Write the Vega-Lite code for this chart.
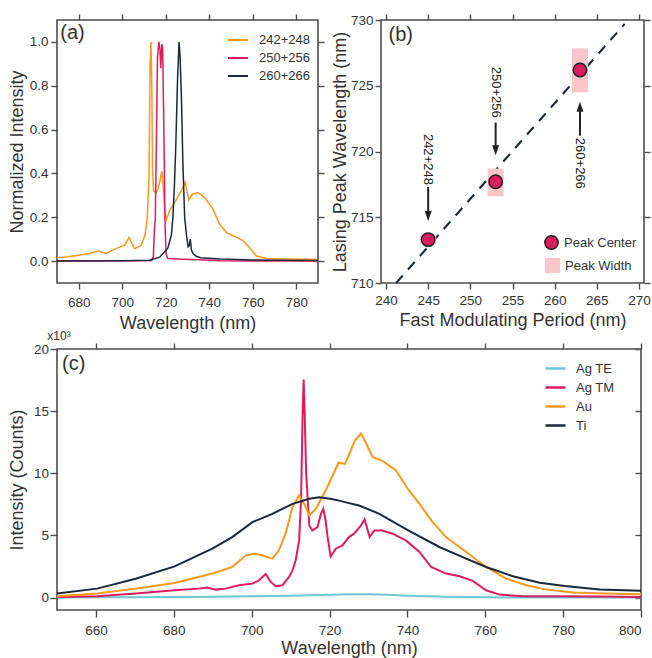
{
  "$schema": "https://vega.github.io/schema/vega-lite/v6.json",
  "padding": {"left": 7, "top": 12, "right": 0, "bottom": 0},
  "background": "white",
  "config": {
    "font": "Liberation Sans",
    "view": {"stroke": "#4d4d4d", "strokeWidth": 1.6},
    "axis": {"domain": false, "grid": false, "tickColor": "#4d4d4d", "tickWidth": 1.4, "tickSize": 6, "labelFont": "Liberation Sans", "labelFontSize": 13.5, "labelColor": "#333333", "labelPadding": 3, "titleFont": "Liberation Sans", "titleFontSize": 18, "titleFontWeight": "normal", "titleColor": "#333333"},
    "legend": {"labelFont": "Liberation Sans", "labelFontSize": 13, "labelColor": "#333333", "padding": 0},
    "text": {"font": "Liberation Sans", "color": "#333333"}
  },
  "datasets": {
    "a": [
      {"series":"242+248","wl":670,"val":0.015},{"series":"242+248","wl":675,"val":0.02},{"series":"242+248","wl":680,"val":0.027},{"series":"242+248","wl":685,"val":0.035},{"series":"242+248","wl":688.9,"val":0.046},{"series":"242+248","wl":692.7,"val":0.035},{"series":"242+248","wl":697.3,"val":0.058},{"series":"242+248","wl":701.1,"val":0.073},{"series":"242+248","wl":703.1,"val":0.107},{"series":"242+248","wl":705.7,"val":0.056},{"series":"242+248","wl":708.8,"val":0.073},{"series":"242+248","wl":710.5,"val":0.12},{"series":"242+248","wl":711.5,"val":0.2},{"series":"242+248","wl":712.3,"val":0.38},{"series":"242+248","wl":712.8,"val":0.9},{"series":"242+248","wl":713.2,"val":1.0},{"series":"242+248","wl":713.6,"val":0.8},{"series":"242+248","wl":713.9,"val":0.42},{"series":"242+248","wl":714.4,"val":0.32},{"series":"242+248","wl":715.5,"val":0.31},{"series":"242+248","wl":716.5,"val":0.33},{"series":"242+248","wl":717.4,"val":0.37},{"series":"242+248","wl":718.2,"val":0.41},{"series":"242+248","wl":718.9,"val":0.33},{"series":"242+248","wl":719.6,"val":0.22},{"series":"242+248","wl":720.3,"val":0.19},{"series":"242+248","wl":721.8,"val":0.23},{"series":"242+248","wl":724.9,"val":0.28},{"series":"242+248","wl":727.9,"val":0.336},{"series":"242+248","wl":729.0,"val":0.36},{"series":"242+248","wl":730.6,"val":0.28},{"series":"242+248","wl":732.2,"val":0.305},{"series":"242+248","wl":734.8,"val":0.313},{"series":"242+248","wl":737.9,"val":0.29},{"series":"242+248","wl":741.7,"val":0.237},{"series":"242+248","wl":744.8,"val":0.168},{"series":"242+248","wl":747.9,"val":0.13},{"series":"242+248","wl":751.7,"val":0.113},{"series":"242+248","wl":755.5,"val":0.093},{"series":"242+248","wl":758.6,"val":0.061},{"series":"242+248","wl":761.7,"val":0.023},{"series":"242+248","wl":766.3,"val":0.012},{"series":"242+248","wl":775,"val":0.009},{"series":"242+248","wl":790,"val":0.007},
      {"series":"250+256","wl":670,"val":0.0},{"series":"250+256","wl":700,"val":0.002},{"series":"250+256","wl":713.5,"val":0.003},{"series":"250+256","wl":714.3,"val":0.02},{"series":"250+256","wl":714.8,"val":0.15},{"series":"250+256","wl":715.2,"val":0.19},{"series":"250+256","wl":715.7,"val":0.55},{"series":"250+256","wl":716.2,"val":0.93},{"series":"250+256","wl":716.8,"val":1.0},{"series":"250+256","wl":717.3,"val":0.97},{"series":"250+256","wl":717.7,"val":0.88},{"series":"250+256","wl":718.2,"val":0.99},{"series":"250+256","wl":718.6,"val":0.97},{"series":"250+256","wl":719.2,"val":0.55},{"series":"250+256","wl":719.7,"val":0.15},{"series":"250+256","wl":720.2,"val":0.03},{"series":"250+256","wl":721,"val":0.012},{"series":"250+256","wl":725,"val":0.01},{"series":"250+256","wl":735,"val":0.006},{"series":"250+256","wl":745,"val":0.002},{"series":"250+256","wl":760,"val":0.0},{"series":"250+256","wl":790,"val":0.0},
      {"series":"260+266","wl":670,"val":0.0},{"series":"260+266","wl":700,"val":0.002},{"series":"260+266","wl":712.6,"val":0.004},{"series":"260+266","wl":717.2,"val":0.018},{"series":"260+266","wl":719.5,"val":0.043},{"series":"260+266","wl":721,"val":0.06},{"series":"260+266","wl":722.6,"val":0.12},{"series":"260+266","wl":723.3,"val":0.2},{"series":"260+266","wl":724,"val":0.35},{"series":"260+266","wl":724.6,"val":0.52},{"series":"260+266","wl":725.4,"val":0.82},{"series":"260+266","wl":726.1,"val":1.0},{"series":"260+266","wl":726.6,"val":0.93},{"series":"260+266","wl":727.2,"val":0.75},{"series":"260+266","wl":727.9,"val":0.44},{"series":"260+266","wl":728.7,"val":0.2},{"series":"260+266","wl":729.5,"val":0.12},{"series":"260+266","wl":730.3,"val":0.065},{"series":"260+266","wl":730.8,"val":0.07},{"series":"260+266","wl":731.3,"val":0.1},{"series":"260+266","wl":731.8,"val":0.05},{"series":"260+266","wl":732.5,"val":0.035},{"series":"260+266","wl":734,"val":0.022},{"series":"260+266","wl":736,"val":0.015},{"series":"260+266","wl":745,"val":0.01},{"series":"260+266","wl":760,"val":0.005},{"series":"260+266","wl":790,"val":0.003}
    ],
    "c": [
      {"series":"Ag TE","wl":650,"val":0.0},{"series":"Ag TE","wl":660,"val":0.02},{"series":"Ag TE","wl":670,"val":0.03},{"series":"Ag TE","wl":680,"val":0.05},{"series":"Ag TE","wl":690,"val":0.07},{"series":"Ag TE","wl":700,"val":0.1},{"series":"Ag TE","wl":710,"val":0.15},{"series":"Ag TE","wl":720,"val":0.22},{"series":"Ag TE","wl":725,"val":0.27},{"series":"Ag TE","wl":730,"val":0.27},{"series":"Ag TE","wl":735,"val":0.22},{"series":"Ag TE","wl":740,"val":0.15},{"series":"Ag TE","wl":750,"val":0.07},{"series":"Ag TE","wl":760,"val":0.03},{"series":"Ag TE","wl":770,"val":0.0},{"series":"Ag TE","wl":780,"val":0.0},{"series":"Ag TE","wl":800,"val":0.0},
      {"series":"Ag TM","wl":650,"val":0.05},{"series":"Ag TM","wl":660.3,"val":0.11},{"series":"Ag TM","wl":670.2,"val":0.32},{"series":"Ag TM","wl":680.2,"val":0.59},{"series":"Ag TM","wl":686.4,"val":0.72},{"series":"Ag TM","wl":688.6,"val":0.8},{"series":"Ag TM","wl":690.7,"val":0.64},{"series":"Ag TM","wl":693.3,"val":0.72},{"series":"Ag TM","wl":696.7,"val":0.99},{"series":"Ag TM","wl":700.2,"val":1.12},{"series":"Ag TM","wl":701.9,"val":1.39},{"series":"Ag TM","wl":703.6,"val":1.9},{"series":"Ag TM","wl":704.9,"val":1.26},{"series":"Ag TM","wl":706.2,"val":0.91},{"series":"Ag TM","wl":707.9,"val":0.99},{"series":"Ag TM","wl":709.6,"val":1.66},{"series":"Ag TM","wl":710.5,"val":2.19},{"series":"Ag TM","wl":711.3,"val":3.0},{"series":"Ag TM","wl":712.2,"val":4.6},{"series":"Ag TM","wl":712.7,"val":8.0},{"series":"Ag TM","wl":713.1,"val":15.0},{"series":"Ag TM","wl":713.35,"val":17.55},{"series":"Ag TM","wl":713.6,"val":15.0},{"series":"Ag TM","wl":714.0,"val":10.0},{"series":"Ag TM","wl":714.8,"val":5.8},{"series":"Ag TM","wl":715.6,"val":5.4},{"series":"Ag TM","wl":716.9,"val":5.67},{"series":"Ag TM","wl":717.8,"val":6.74},{"series":"Ag TM","wl":718.4,"val":7.14},{"series":"Ag TM","wl":719.0,"val":6.21},{"series":"Ag TM","wl":719.5,"val":4.87},{"series":"Ag TM","wl":720.3,"val":3.3},{"series":"Ag TM","wl":721.6,"val":3.93},{"series":"Ag TM","wl":723.3,"val":4.2},{"series":"Ag TM","wl":725.0,"val":4.87},{"series":"Ag TM","wl":726.3,"val":5.14},{"series":"Ag TM","wl":728.1,"val":5.81},{"series":"Ag TM","wl":729.0,"val":6.3},{"series":"Ag TM","wl":730.3,"val":4.87},{"series":"Ag TM","wl":731.5,"val":5.4},{"series":"Ag TM","wl":733.6,"val":5.4},{"series":"Ag TM","wl":736.2,"val":5.14},{"series":"Ag TM","wl":739.6,"val":4.6},{"series":"Ag TM","wl":743.1,"val":3.67},{"series":"Ag TM","wl":746.1,"val":2.46},{"series":"Ag TM","wl":749.9,"val":1.93},{"series":"Ag TM","wl":753.4,"val":1.71},{"series":"Ag TM","wl":756.8,"val":1.34},{"series":"Ag TM","wl":760.2,"val":0.59},{"series":"Ag TM","wl":763.7,"val":0.24},{"series":"Ag TM","wl":769.7,"val":0.11},{"series":"Ag TM","wl":778.2,"val":0.11},{"series":"Ag TM","wl":790,"val":0.08},{"series":"Ag TM","wl":800,"val":0.05},
      {"series":"Au","wl":650,"val":0.11},{"series":"Au","wl":660.3,"val":0.32},{"series":"Au","wl":670.2,"val":0.72},{"series":"Au","wl":680.2,"val":1.18},{"series":"Au","wl":689.9,"val":1.93},{"series":"Au","wl":695,"val":2.46},{"series":"Au","wl":698.5,"val":3.4},{"series":"Au","wl":700.6,"val":3.53},{"series":"Au","wl":702.7,"val":3.4},{"series":"Au","wl":705.3,"val":3.13},{"series":"Au","wl":707,"val":3.8},{"series":"Au","wl":708.7,"val":5.14},{"series":"Au","wl":710.5,"val":7.28},{"series":"Au","wl":712.2,"val":8.21},{"series":"Au","wl":713.5,"val":7.54},{"series":"Au","wl":714.8,"val":6.61},{"series":"Au","wl":716.5,"val":7.14},{"series":"Au","wl":719,"val":8.61},{"series":"Au","wl":720.8,"val":9.82},{"series":"Au","wl":722.3,"val":10.85},{"series":"Au","wl":724.0,"val":10.75},{"series":"Au","wl":726.5,"val":12.63},{"series":"Au","wl":728.1,"val":13.2},{"series":"Au","wl":729.4,"val":12.4},{"series":"Au","wl":731.1,"val":11.29},{"series":"Au","wl":733.6,"val":11.0},{"series":"Au","wl":737.1,"val":10.22},{"series":"Au","wl":740.2,"val":8.7},{"series":"Au","wl":743.1,"val":7.54},{"series":"Au","wl":746.5,"val":6.07},{"series":"Au","wl":749.9,"val":4.87},{"series":"Au","wl":755.1,"val":3.67},{"series":"Au","wl":760.2,"val":2.46},{"series":"Au","wl":765.4,"val":1.52},{"series":"Au","wl":770.5,"val":0.99},{"series":"Au","wl":775.7,"val":0.64},{"series":"Au","wl":782.5,"val":0.4},{"series":"Au","wl":791.1,"val":0.32},{"series":"Au","wl":800,"val":0.27},
      {"series":"Ti","wl":650,"val":0.32},{"series":"Ti","wl":660.3,"val":0.72},{"series":"Ti","wl":670.2,"val":1.52},{"series":"Ti","wl":680.2,"val":2.51},{"series":"Ti","wl":689.9,"val":3.93},{"series":"Ti","wl":695,"val":4.87},{"series":"Ti","wl":700.2,"val":6.07},{"series":"Ti","wl":705.3,"val":6.74},{"series":"Ti","wl":710.5,"val":7.54},{"series":"Ti","wl":714.8,"val":7.95},{"series":"Ti","wl":717.3,"val":8.08},{"series":"Ti","wl":720.2,"val":7.95},{"series":"Ti","wl":722.5,"val":7.8},{"series":"Ti","wl":725,"val":7.6},{"series":"Ti","wl":727.6,"val":7.41},{"series":"Ti","wl":732.8,"val":6.74},{"series":"Ti","wl":740.2,"val":5.4},{"series":"Ti","wl":748.2,"val":4.07},{"series":"Ti","wl":755.1,"val":3.13},{"series":"Ti","wl":760.2,"val":2.46},{"series":"Ti","wl":767.1,"val":1.71},{"series":"Ti","wl":774,"val":1.2},{"series":"Ti","wl":780.4,"val":0.94},{"series":"Ti","wl":789.4,"val":0.64},{"series":"Ti","wl":800,"val":0.54}
    ],
    "b_pts": [{"period":245,"peak":713.3},{"period":253,"peak":717.7},{"period":263,"peak":726.2}],
    "b_width": [{"period":245,"lo":712.95,"hi":713.65},{"period":253,"lo":716.6,"hi":718.7},{"period":263,"lo":724.5,"hi":727.85}],
    "b_fit": [{"period":241.2,"peak":710},{"period":268.3,"peak":729.7}],
    "b_arrows": [
      {"label":"242+248","period":245,"textPos":719.4,"tail":717.3,"head":715.1,"dir":"down"},
      {"label":"250+256","period":253,"textPos":724.5,"tail":722.2,"head":720.1,"dir":"down"},
      {"label":"260+266","period":263,"textPos":719.1,"tail":721.2,"head":723.4,"dir":"up"}
    ]
  },
  "spacing": -5,
  "resolve": {"scale": {"x": "independent", "y": "independent", "color": "independent", "fill": "independent", "shape": "independent"}},
  "vconcat": [
    {
      "bounds": "flush",
      "spacing": 63,
      "resolve": {"scale": {"x": "independent", "y": "independent", "color": "independent", "fill": "independent", "shape": "independent"}},
      "hconcat": [
        {
          "width": 261,
          "height": 263,
          "resolve": {"axis": {"x": "independent", "y": "independent"}},
          "layer": [
            {
              "data": {"name": "a"},
              "mark": {"type": "line", "strokeWidth": 1.5},
              "encoding": {
                "x": {"field": "wl", "type": "quantitative", "scale": {"domain": [670, 790], "nice": false, "zero": false},
                      "axis": {"orient": "bottom", "values": [680, 700, 720, 740, 760, 780], "title": "Wavelength (nm)", "labelPadding": 6, "titlePadding": 6}},
                "y": {"field": "val", "type": "quantitative", "scale": {"domain": [-0.1, 1.1], "nice": false, "zero": false},
                      "axis": {"orient": "left", "values": [0, 0.2, 0.4, 0.6, 0.8, 1.0], "format": ".1f", "title": "Normalized Intensity", "titlePadding": 3}},
                "color": {"field": "series", "type": "nominal",
                          "scale": {"domain": ["242+248", "250+256", "260+266"], "range": ["#f8981d", "#dc1c5e", "#1b2838"]},
                          "legend": {"orient": "none", "legendX": 170, "legendY": 9, "title": null, "symbolType": "stroke", "symbolSize": 400, "symbolStrokeWidth": 2, "labelFontSize": 13, "labelOffset": 10, "rowPadding": 0}}
              }
            },
            {
              "data": {"values": [{}]},
              "mark": {"type": "text", "text": "(a)", "fontSize": 20, "align": "left", "baseline": "middle"},
              "encoding": {
                "x": {"datum": 671.5, "type": "quantitative", "scale": {"domain": [670, 790], "nice": false, "zero": false},
                      "axis": {"orient": "top", "values": [680, 700, 720, 740, 760, 780], "labels": false, "title": null}},
                "y": {"datum": 1.04, "type": "quantitative", "scale": {"domain": [-0.1, 1.1], "nice": false, "zero": false},
                      "axis": {"orient": "right", "values": [0, 0.2, 0.4, 0.6, 0.8, 1.0], "labels": false, "title": null}}
              }
            }
          ]
        },
        {
          "width": 263,
          "height": 263,
          "resolve": {"axis": {"x": "independent", "y": "independent"}},
          "layer": [
            {
              "data": {"name": "b_fit"},
              "mark": {"type": "line", "strokeDash": [10, 8], "strokeWidth": 2, "color": "#1b2838"},
              "encoding": {
                "x": {"field": "period", "type": "quantitative", "scale": {"domain": [240, 270], "nice": false, "zero": false},
                      "axis": {"orient": "bottom", "values": [240, 245, 250, 255, 260, 265, 270], "title": "Fast Modulating Period (nm)", "labelPadding": 4, "titlePadding": 5}},
                "y": {"field": "peak", "type": "quantitative", "scale": {"domain": [710, 730], "nice": false, "zero": false},
                      "axis": {"orient": "left", "values": [710, 715, 720, 725, 730], "title": "Lasing Peak Wavelength (nm)", "labelPadding": 2, "titlePadding": 1}}
              }
            },
            {
              "data": {"name": "b_width"},
              "mark": {"type": "bar", "width": 16},
              "encoding": {
                "x": {"field": "period", "type": "quantitative", "scale": {"domain": [240, 270], "nice": false, "zero": false}, "axis": null},
                "y": {"field": "lo", "type": "quantitative", "scale": {"domain": [710, 730], "nice": false, "zero": false}, "axis": null},
                "y2": {"field": "hi"},
                "color": {"datum": "Peak Width", "type": "nominal", "scale": {"domain": ["Peak Width"], "range": ["#f9c5cb"]},
                          "legend": {"orient": "none", "legendX": 163, "legendY": 237, "title": null, "symbolType": "square", "symbolSize": 230, "labelFontSize": 13, "labelOffset": 4}}
              }
            },
            {
              "data": {"name": "b_pts"},
              "mark": {"type": "point", "filled": true, "size": 180, "stroke": "#222222", "strokeWidth": 1.5, "opacity": 1},
              "encoding": {
                "x": {"field": "period", "type": "quantitative", "scale": {"domain": [240, 270], "nice": false, "zero": false}, "axis": null},
                "y": {"field": "peak", "type": "quantitative", "scale": {"domain": [710, 730], "nice": false, "zero": false}, "axis": null},
                "fill": {"datum": "Peak Center", "type": "nominal", "scale": {"domain": ["Peak Center"], "range": ["#dc1c5e"]},
                         "legend": {"orient": "none", "legendX": 163, "legendY": 215, "title": null, "symbolType": "circle", "symbolSize": 180, "symbolStrokeColor": "#222222", "symbolStrokeWidth": 1.5, "labelFontSize": 13, "labelOffset": 5}}
              }
            },
            {
              "data": {"name": "b_arrows"},
              "mark": {"type": "rule", "strokeWidth": 2, "color": "#222222"},
              "encoding": {
                "x": {"field": "period", "type": "quantitative", "scale": {"domain": [240, 270], "nice": false, "zero": false}, "axis": null},
                "y": {"field": "tail", "type": "quantitative", "scale": {"domain": [710, 730], "nice": false, "zero": false}, "axis": null},
                "y2": {"field": "head"}
              }
            },
            {
              "data": {"name": "b_arrows"},
              "mark": {"type": "point", "filled": true, "size": 100, "color": "#222222", "opacity": 1},
              "encoding": {
                "x": {"field": "period", "type": "quantitative", "scale": {"domain": [240, 270], "nice": false, "zero": false}, "axis": null},
                "y": {"field": "head", "type": "quantitative", "scale": {"domain": [710, 730], "nice": false, "zero": false}, "axis": null},
                "shape": {"field": "dir", "type": "nominal", "scale": {"domain": ["down", "up"], "range": ["M-0.7,-1L0.7,-1L0,1Z", "M-0.7,1L0.7,1L0,-1Z"]}, "legend": null}
              }
            },
            {
              "data": {"name": "b_arrows"},
              "mark": {"type": "text", "angle": 90, "fontSize": 13, "align": "center", "baseline": "middle", "color": "#222222"},
              "encoding": {
                "x": {"field": "period", "type": "quantitative", "scale": {"domain": [240, 270], "nice": false, "zero": false}, "axis": null},
                "y": {"field": "textPos", "type": "quantitative", "scale": {"domain": [710, 730], "nice": false, "zero": false}, "axis": null},
                "text": {"field": "label"}
              }
            },
            {
              "data": {"values": [{}]},
              "mark": {"type": "text", "text": "(b)", "fontSize": 20, "align": "left", "baseline": "middle"},
              "encoding": {
                "x": {"datum": 240.3, "type": "quantitative", "scale": {"domain": [240, 270], "nice": false, "zero": false},
                      "axis": {"orient": "top", "values": [240, 245, 250, 255, 260, 265, 270], "labels": false, "title": null}},
                "y": {"datum": 728.85, "type": "quantitative", "scale": {"domain": [710, 730], "nice": false, "zero": false},
                      "axis": {"orient": "right", "values": [710, 715, 720, 725, 730], "labels": false, "title": null}}
              }
            }
          ]
        }
      ]
    },
    {
      "width": 584,
      "height": 261,
      "resolve": {"axis": {"x": "independent", "y": "independent"}},
      "layer": [
        {
          "data": {"name": "c"},
          "mark": {"type": "line", "strokeWidth": 2},
          "encoding": {
            "x": {"field": "wl", "type": "quantitative", "scale": {"domain": [650, 800], "nice": false, "zero": false},
                  "axis": {"orient": "bottom", "values": [660, 680, 700, 720, 740, 760, 780, 800], "title": "Wavelength (nm)", "tickSize": 7, "labelPadding": 6, "titlePadding": 3}},
            "y": {"field": "val", "type": "quantitative", "scale": {"domain": [-1, 20], "nice": false, "zero": false},
                  "axis": {"orient": "left", "values": [0, 5, 10, 15, 20], "title": "Intensity (Counts)", "tickSize": 7, "labelPadding": 1.5, "titlePadding": 7}},
            "color": {"field": "series", "type": "nominal",
                      "scale": {"domain": ["Ag TE", "Ag TM", "Au", "Ti"], "range": ["#6cc7d4", "#dc1c5e", "#f8981d", "#1b2838"]},
                      "legend": {"orient": "none", "legendX": 487, "legendY": 8, "title": null, "symbolType": "stroke", "symbolSize": 400, "symbolStrokeWidth": 2.5, "labelFontSize": 13, "labelOffset": 9, "rowPadding": 0}}
          }
        },
        {
          "data": {"values": [{}]},
          "mark": {"type": "text", "text": "(c)", "fontSize": 20, "align": "left", "baseline": "middle"},
          "encoding": {
            "x": {"datum": 651.3, "type": "quantitative", "scale": {"domain": [650, 800], "nice": false, "zero": false},
                  "axis": {"orient": "top", "values": [660, 680, 700, 720, 740, 760, 780, 800], "labels": false, "title": null}},
            "y": {"datum": 18.8, "type": "quantitative", "scale": {"domain": [-1, 20], "nice": false, "zero": false},
                  "axis": {"orient": "right", "values": [0, 5, 10, 15, 20], "labels": false, "title": null, "tickSize": -6}}
          }
        },
        {
          "data": {"values": [{}]},
          "mark": {"type": "text", "text": "x10³", "fontSize": 12, "align": "center", "baseline": "middle", "dx": 2, "dy": -13},
          "encoding": {
            "x": {"datum": 650, "type": "quantitative", "scale": {"domain": [650, 800], "nice": false, "zero": false}, "axis": null},
            "y": {"datum": 20, "type": "quantitative", "scale": {"domain": [-1, 20], "nice": false, "zero": false}, "axis": null}
          }
        }
      ]
    }
  ]
}
